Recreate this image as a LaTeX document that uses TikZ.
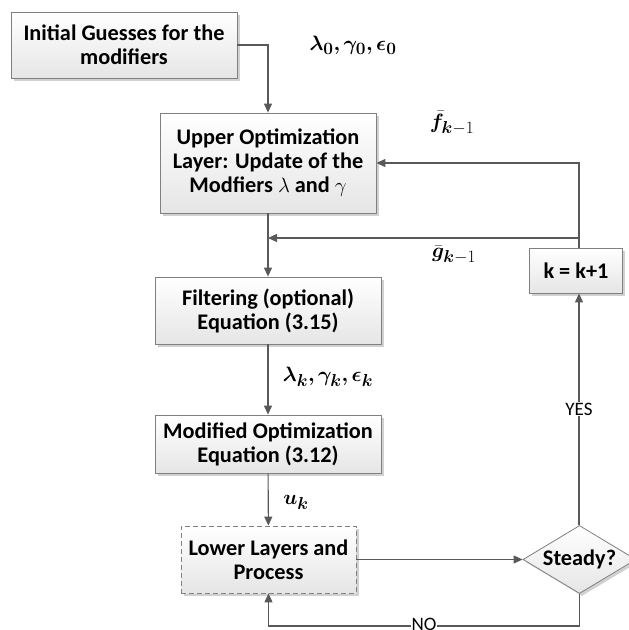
\documentclass[tikz,border=0pt]{standalone}
\usepackage{amsmath,bm}
\usepackage{fontspec}
\setmainfont{Carlito}
\DeclareMathSizes{22}{22}{17}{13}
\usetikzlibrary{shapes.geometric,arrows.meta,shadows}
\begin{document}
\begin{tikzpicture}[x=1pt,y=-1pt,
  box/.style={draw=black!50,line width=0.8pt,top color=white,bottom color=black!10,
    font=\bfseries\fontsize{22.3}{24}\selectfont,align=center,inner sep=0pt,
    drop shadow={shadow xshift=2.5pt,shadow yshift=-2.5pt,fill=black!30,opacity=0.6}},
  dbox/.style={box,dashed,dash pattern=on 5pt off 3pt},
  flow/.style={draw=black!65,line width=1.1pt,-{Triangle[length=9pt,width=8pt]}},
  line/.style={draw=black!65,line width=1.1pt},
  mlab/.style={font=\fontsize{22}{26}\selectfont,inner sep=0pt},
  tlab/.style={font=\fontsize{19}{22}\selectfont,fill=white,inner sep=1pt}]
\useasboundingbox (0,0) rectangle (629,630);
% process boxes
\node[box,minimum width=226pt,minimum height=66pt] (init) at (124,45) {Initial Guesses for the\\modifiers};
\node[box,minimum width=216pt,minimum height=100pt] (upper) at (268,163) {Upper Optimization\\Layer: Update of the\\Modfiers $\lambda$ and $\gamma$};
\node[box,minimum width=226pt,minimum height=67pt] (filter) at (268,310.5) {Filtering (optional)\\Equation (3.15)};
\node[box,minimum width=226pt,minimum height=58pt] (modopt) at (268,444) {Modified Optimization\\Equation (3.12)};
\node[dbox,minimum width=175pt,minimum height=67pt] (lower) at (268.5,559.5) {Lower Layers and\\Process};
\node[box,minimum width=93pt,minimum height=45pt] (kinc) at (576,270.5) {k = k+1};
\node[box,diamond,aspect=1.67,minimum width=113pt,minimum height=68pt] (steady) at (579.5,559.5) {Steady?};
% junction points of the loops
\coordinate (j1) at (268,238);
\coordinate (kt) at (579,248);
\coordinate (nr) at (579.5,626);
\coordinate (nl) at (268.5,626);
% connectors
\draw[flow] (init.east) -| (upper.north);
\draw[line] (upper.south) -- (j1);
\draw[flow] (j1) -- (filter.north);
\draw[flow] (filter) -- (modopt);
\draw[flow] (modopt) -- (lower);
\draw[flow] (lower) -- (steady);
\draw[flow] (steady.north -| kt) -- node[tlab,pos=0.5] {YES} (kinc.south -| kt);
\draw[flow] (kt) -- (kt |- upper.east) -- (upper.east);
\draw[flow] (kt |- j1) -- (j1);
\draw[flow] (steady.south) -- (nr) -- node[tlab,pos=0.5,yshift=2pt,inner sep=0.5pt] {NO} (nl) -- (lower.south);
% signal labels
\node[mlab] (l0) at (353,45) {$\boldsymbol{\lambda_0{,}\,\gamma_0{,}\,\epsilon_0}$};
\node[mlab] (fk) at (452,123) {$\bar{\boldsymbol{f}}_{\boldsymbol{k}-1}$};
\node[mlab] (gk) at (454,255) {$\bar{\boldsymbol{g}}_{\boldsymbol{k}-1}$};
\node[mlab] (lk) at (328,377) {$\boldsymbol{\lambda_k{,}\,\gamma_k{,}\,\epsilon_k}$};
\node[mlab] (uk) at (296,502) {$\boldsymbol{u_k}$};
\end{tikzpicture}
\end{document}
